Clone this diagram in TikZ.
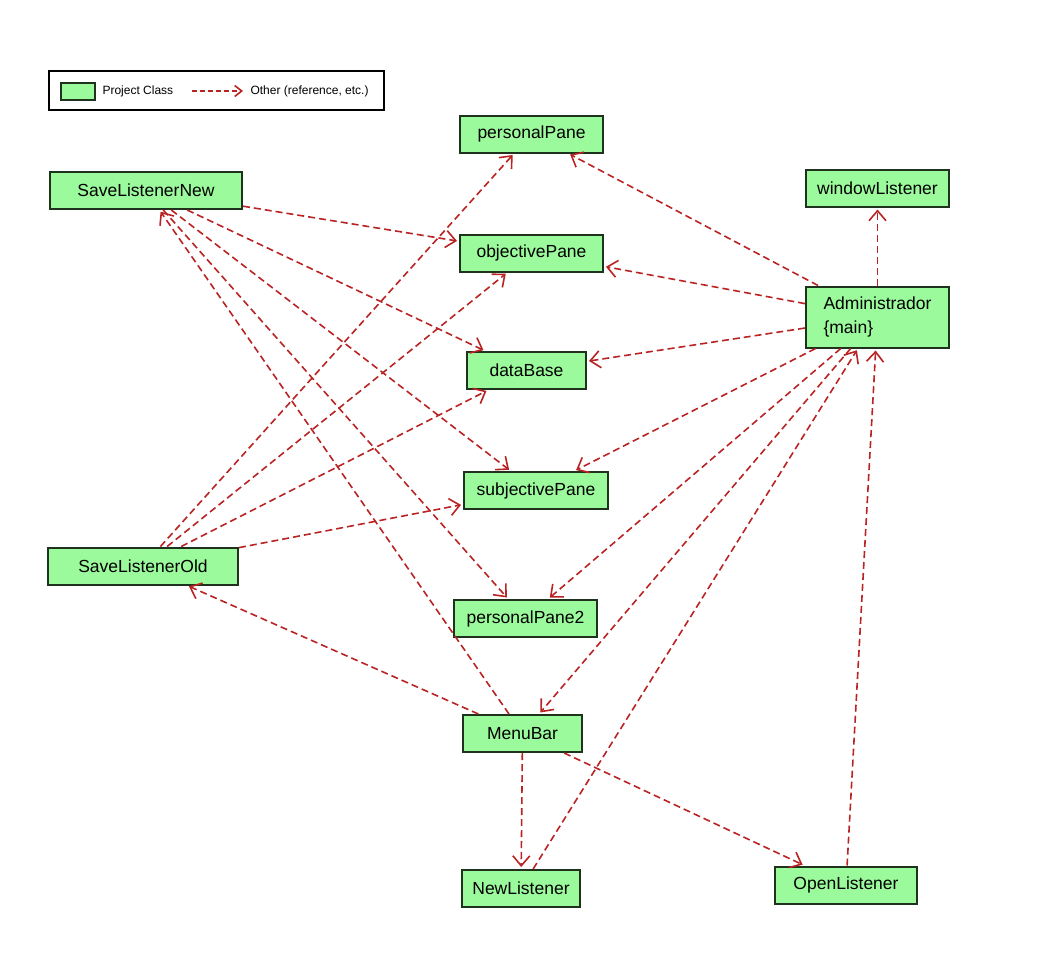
\documentclass[tikz,border=0pt]{standalone}
\usepackage{fontspec}
\setsansfont{Liberation Sans}
\usetikzlibrary{arrows.meta}
\definecolor{classgreen}{RGB}{155,250,155}
\definecolor{refred}{RGB}{185,35,35}
\definecolor{boxline}{RGB}{30,50,30}
\begin{document}
\begin{tikzpicture}[x=1pt, y=-1pt, ->, >={Straight Barb[length=10pt,width=17pt]}, shorten >=2pt,
    main node/.style={rectangle, draw=boxline, line width=2pt, fill=classgreen, minimum height=37pt, inner sep=0pt, font=\sffamily\fontsize{17.5}{23.5}\selectfont}]
            \tikzstyle{every node}=[font=\sffamily]
            \useasboundingbox (0,0) rectangle (1060,975);

              % legend
              \node[draw=black, line width=1.6pt, fill=white, minimum width=335pt, minimum height=39pt] (key) at (216.5,90.5) {};
              \node[main node, minimum width=34pt, minimum height=17pt, line width=1.5pt] (swatch) at (78,91.5) {};
              \node[anchor=west, font=\sffamily\fontsize{12}{14}\selectfont] (pc) at (99,91) {Project Class};
              \node[anchor=west, font=\sffamily\fontsize{12}{14}\selectfont] (oth) at (247,91) {Other (reference, etc.)};
              \coordinate (k1) at (192,91);
              \coordinate (k2) at (245,91);
              \draw[refred, line width=1.6pt, dash pattern=on 5pt off 3pt, >={Straight Barb[length=7pt,width=11pt]}] (k1) -- (k2);

              \node[main node, minimum width=143pt] (1) at (531.5,134) {personalPane};
              \node[main node, minimum width=143pt] (2) at (877.5,188) {windowListener};
              \node[main node, minimum width=143pt] (3) at (531.5,253) {objectivePane};
              \node[main node, minimum width=143pt, minimum height=61pt, align=left] (4) at (877.5,317) {Administrador\\\{main\}};
              \node[main node, minimum width=192pt] (5) at (146,190.5) {SaveListenerNew};
              \node[main node, minimum width=119pt] (6) at (526.5,370.5) {dataBase};
              \node[main node, minimum width=144pt] (7) at (536,490.5) {subjectivePane};
              \node[main node, minimum width=190pt] (8) at (143,566) {SaveListenerOld};
              \node[main node, minimum width=143pt] (9) at (525.5,618.5) {personalPane2};
              \node[main node, minimum width=119pt] (10) at (522.5,733.5) {MenuBar};
              \node[main node, minimum width=118pt] (11) at (521,888.5) {NewListener};
              \node[main node, minimum width=142pt] (12) at (846,885) {OpenListener};

              \path[every edge/.style={draw=refred, line width=1.6pt, dash pattern=on 7pt off 4pt}]
                (5) edge (3)
                    edge (6)
                    edge (7)
                    edge (9)
                (8) edge (1)
                    edge (3)
                    edge (6)
                    edge (7)
                (4) edge (1)
                    edge (2)
                    edge (3)
                    edge (6)
                    edge (7)
                    edge (9)
                    edge (10)
                (10) edge (5)
                    edge (8)
                    edge (11)
                    edge (12)
                (11) edge (4)
                (12) edge (4);

            \end{tikzpicture}
\end{document}
